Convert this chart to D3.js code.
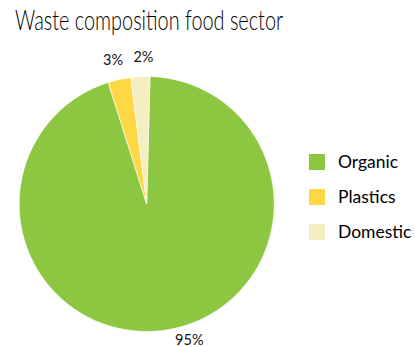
<!DOCTYPE html>
<html>
<head>
<meta charset="utf-8">
<script src="https://cdn.jsdelivr.net/npm/d3@7"></script>
<style>
  body { margin: 0; background: #fff; }
  text { font-family: Lato, "Open Sans", sans-serif; }
</style>
</head>
<body>
<div id="chart"></div>
<script>
// Data
const categories = ["Organic", "Plastics", "Domestic"];
const values = [94.7, 2.9, 2.4];
const labels = ["95%", "3%", "2%"];
const colours = ["#8dc640", "#fdd744", "#f5eec2"];

const width = 415, height = 347;
const cx = 146.7, cy = 204, radius = 127.5;

const svg = d3.select("#chart")
  .append("svg")
  .attr("width", width)
  .attr("height", height);

// Title
svg.append("text")
  .attr("x", 15)
  .attr("y", 30)
  .attr("font-size", 27)
  .attr("font-weight", 300)
  .attr("fill", "#000")
  .attr("textLength", 268)
  .attr("lengthAdjust", "spacingAndGlyphs")
  .text("Waste composition food sector");

const data = categories.map((c, i) => ({ name: c, value: values[i], label: labels[i], colour: colours[i] }));

const startAngle = 0.026;
const pie = d3.pie()
  .sort(null)
  .value(d => d.value)
  .startAngle(startAngle)
  .endAngle(startAngle + 2 * Math.PI);

const arc = d3.arc().innerRadius(0).outerRadius(radius);
const labelArc = d3.arc().innerRadius(radius + 20).outerRadius(radius + 20);

const chart = svg.append("g")
  .attr("transform", `translate(${cx},${cy})`);

const arcs = pie(data);

chart.selectAll(".slice")
  .data(arcs)
  .join("path")
  .attr("class", "slice")
  .attr("d", arc)
  .attr("fill", d => d.data.colour)
  .attr("stroke", "#fff")
  .attr("stroke-width", 0.6);

// Data labels; the big slice label sits a little right of its centroid like in the original
chart.selectAll(".pct")
  .data(arcs)
  .join("text")
  .attr("class", "pct")
  .attr("x", (d, i) => labelArc.centroid(d)[0] + (i === 0 ? 22 : (i === 2 ? 4 : -2)))
  .attr("y", (d, i) => labelArc.centroid(d)[1] + (i === 0 ? -5 : 5))
  .attr("text-anchor", "middle")
  .attr("font-size", 14.5)
  .attr("fill", "#111")
  .text(d => d.data.label);

// Legend
const legendY = d3.scalePoint()
  .domain(categories)
  .range([162, 232]);

const legend = svg.append("g")
  .selectAll(".legend-item")
  .data(data)
  .join("g")
  .attr("class", "legend-item")
  .attr("transform", d => `translate(309,${legendY(d.name)})`);

legend.append("rect")
  .attr("x", 0)
  .attr("y", -8)
  .attr("width", 16)
  .attr("height", 16)
  .attr("fill", d => d.colour);

legend.append("text")
  .attr("x", 29)
  .attr("y", 5.5)
  .attr("font-size", 17.5)
  .attr("fill", "#000")
  .text(d => d.name);
</script>
</body>
</html>
